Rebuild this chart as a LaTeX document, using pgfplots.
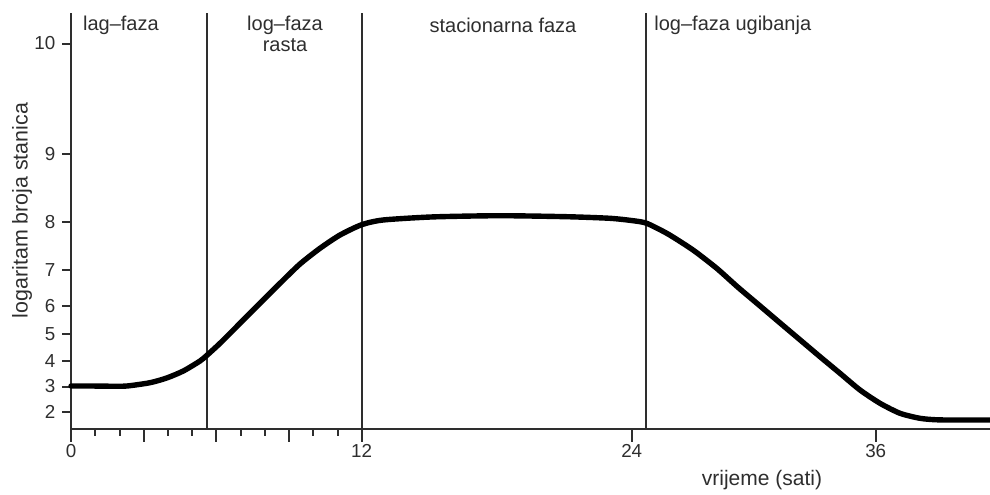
\documentclass[border=0pt]{standalone}
\usepackage{fontspec}
\setmainfont{Liberation Sans}
\usepackage{pgfplots}
\pgfplotsset{compat=1.18}
\definecolor{ink}{HTML}{2E2E2E}
\begin{document}
\begin{tikzpicture}
\useasboundingbox (-35.5pt,-32.75pt) rectangle (459.5pt,214.25pt);
\begin{axis}[
  x=0.5pt, y=0.5pt,
  xmin=0, xmax=919, ymin=0, ymax=415.5,
  axis x line=bottom, axis y line=left,
  axis line style={-, line width=1pt, ink},
  xtick={0,72.7,145.4,218.1,290.7,560.7,804.7},
  xticklabels={0,,,,12,24,36},
  minor xtick={24.2,48.5,96.9,121.2,169.6,193.9,242.3,266.6},
  ytick={16.5,42,67.5,94.5,122.5,158.5,206.5,274.5,385},
  yticklabels={2,3,4,5,6,7,8,9,10},
  tick align=outside,
  x tick style={/pgfplots/major tick length=6.65pt, line width=1pt, ink},
  y tick style={/pgfplots/major tick length=4.3pt, line width=1pt, ink},
  minor tick length=3.5pt,
  minor x tick style={line width=1pt, ink},
  tick label style={font=\fontsize{9.4}{11}\selectfont, text=ink},
  /pgf/number format/assume math mode=true,
  clip=false,
]
\addplot[ink, line width=0.8pt] coordinates {(135.7,0) (135.7,415.5)};
\addplot[ink, line width=0.8pt] coordinates {(290.7,0) (290.7,415.5)};
\addplot[ink, line width=0.8pt] coordinates {(575,0) (575,415.5)};
\addplot[black, line width=2.7pt, smooth, tension=0.4, line cap=round] coordinates {
(0,42.5) (19,42.5) (39,42.3) (56,42.5) (79,45.8) (95.7,50.5) (112.3,57.5)
(129,67.5) (135.7,73) (149,85.2) (169,105.2) (189,125.2) (209,145.2)
(229,164.5) (249,180.2) (269,193.5) (290.7,203.8) (312,208.5) (362,211.6)
(429,212.8) (495.7,211.8) (539,210.2) (562,207.8) (575.7,205.2) (597,194.5)
(622,178.5) (645.7,160.2) (667,141.2) (689,122.6) (709,105.6) (729,88.7)
(749,71.8) (769,55.2) (789,38.5) (809,25.2) (829,15.2) (849,10.2) (869,8.6) (919,8.5)};
\begin{scope}[every node/.style={inner sep=0pt, text=ink, font=\fontsize{10}{12}\selectfont}]
\node[anchor=base west] at (axis cs:11.7,397.8) {lag–faza};
\node[anchor=base] at (axis cs:214,397.8) {log–faza};
\node[anchor=base] at (axis cs:214,376.8) {rasta};
\node[anchor=base] at (axis cs:432,396.2) {stacionarna faza};
\node[anchor=base west] at (axis cs:583,397.8) {log–faza ugibanja};
\node[anchor=center, font=\fontsize{10.5}{12}\selectfont] at (axis cs:691,-51.5) {vrijeme (sati)};
\node[anchor=center, rotate=90, font=\fontsize{10.7}{12}\selectfont] at (axis cs:-49,218) {logaritam broja stanica};
\end{scope}
\end{axis}
\end{tikzpicture}
\end{document}
